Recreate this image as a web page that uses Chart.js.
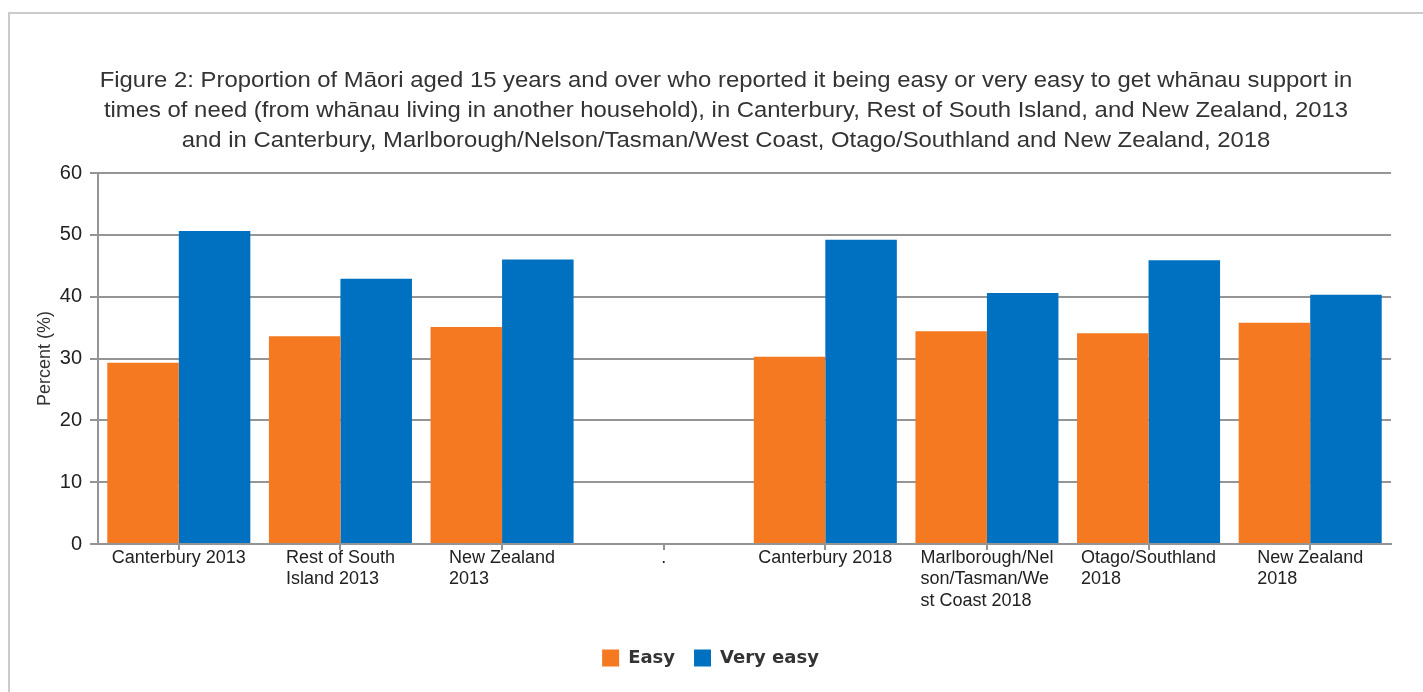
<!DOCTYPE html>
<html>
<head>
<meta charset="utf-8">
<script src="https://cdn.jsdelivr.net/npm/chart.js@4.4.1/dist/chart.umd.min.js"></script>
<style>
  html, body { margin: 0; padding: 0; background: #fff; }
  body { width: 1423px; height: 692px; position: relative; overflow: hidden; }
  .frame { position: absolute; left: 8px; top: 12px; right: -4px; bottom: -4px;
           border-top: 2px solid #cbcbcb; border-left: 2px solid #cbcbcb; }
  #chart { position: absolute; left: 0; top: 0; }
</style>
</head>
<body>
<div class="frame"></div>
<canvas id="chart" width="1423" height="692"></canvas>
<script>
// ---- data ----
const TITLE_LINES = [
  'Figure 2: Proportion of Māori aged 15 years and over who reported it being easy or very easy to get whānau support in',
  'times of need (from whānau living in another household), in Canterbury, Rest of South Island, and New Zealand, 2013',
  'and in Canterbury, Marlborough/Nelson/Tasman/West Coast, Otago/Southland and New Zealand, 2018'
];
const CATEGORIES = [
  'Canterbury 2013',
  ['Rest of South', 'Island 2013'],
  ['New Zealand', '2013'],
  '.',
  'Canterbury 2018',
  ['Marlborough/Nel', 'son/Tasman/We', 'st Coast 2018'],
  ['Otago/Southland', '2018'],
  ['New Zealand', '2018']
];
const EASY      = [29.3, 33.6, 35.1, null, 30.3, 34.4, 34.1, 35.8];
const VERY_EASY = [50.6, 42.9, 46.0, null, 49.2, 40.6, 45.9, 40.3];
const Y_MIN = 0, Y_MAX = 60, Y_STEP = 10;
const Y_TITLE = 'Percent (%)';

const ORANGE = '#F47920';
const BLUE = '#0070C0';
const GRID = '#959595';
const FONT = '"Liberation Sans", Arial, sans-serif';

Chart.defaults.font.family = FONT;

// title drawn by hand so it can sit where the original has it
const titlePlugin = {
  id: 'figTitle',
  afterDraw(chart) {
    const ctx = chart.ctx;
    ctx.save();
    ctx.translate(726, 0);
    ctx.scale(1.085, 1);   // the original title is a little stretched sideways
    ctx.font = '22px ' + FONT;
    ctx.fillStyle = '#333';
    ctx.textAlign = 'center';
    ctx.textBaseline = 'alphabetic';
    TITLE_LINES.forEach((line, i) => ctx.fillText(line, 0, 87 + i * 30));
    ctx.restore();
  }
};

// x labels: wrapped lines left-aligned inside a block centred on the tick
const xLabelPlugin = {
  id: 'xLabels',
  afterDraw(chart) {
    const { ctx } = chart;
    const x = chart.scales.x;
    ctx.save();
    ctx.font = '18px ' + FONT;
    ctx.fillStyle = '#222';
    ctx.textAlign = 'left';
    ctx.textBaseline = 'top';
    chart.data.labels.forEach((lab, i) => {
      const lines = Array.isArray(lab) ? lab : [lab];
      const w = Math.max(...lines.map(l => ctx.measureText(l).width));
      const cx = x.getPixelForTick(i);
      lines.forEach((l, k) => ctx.fillText(l, cx - w / 2, x.top + 5 + k * 21.5));
    });
    ctx.restore();
  }
};

new Chart(document.getElementById('chart').getContext('2d'), {
  type: 'bar',
  data: {
    labels: CATEGORIES,
    datasets: [
      { label: 'Easy', data: EASY, backgroundColor: ORANGE, borderWidth: 0 },
      { label: 'Very easy', data: VERY_EASY, backgroundColor: BLUE, borderWidth: 0 }
    ]
  },
  options: {
    responsive: false,
    animation: false,
    layout: { padding: { top: 173, left: 30, right: 32, bottom: 15 } },
    datasets: { bar: { categoryPercentage: 0.885, barPercentage: 1.0 } },
    scales: {
      x: {
        grid: { drawOnChartArea: false, offset: false, tickLength: 6, color: GRID, lineWidth: 2 },
        border: { color: GRID, width: 2 },
        ticks: { display: false },
        afterFit(scale) { scale.height = 86; }
      },
      y: {
        min: Y_MIN, max: Y_MAX,
        ticks: { stepSize: Y_STEP, padding: 8, color: '#222', font: { size: 20 } },
        grid: { color: GRID, lineWidth: 2, tickLength: 8 },
        border: { color: GRID, width: 2 },
        title: { display: true, text: Y_TITLE, color: '#333', font: { size: 18 }, padding: { top: 4, bottom: 0 } },
        afterFit(scale) { scale.width = 68; }
      }
    },
    plugins: {
      title: { display: false },
      tooltip: { enabled: false },
      legend: {
        position: 'bottom',
        labels: {
          boxWidth: 17, boxHeight: 17, padding: 19, color: '#333',
          font: { family: '"DejaVu Sans", Verdana, sans-serif', weight: 'bold', size: 18 }
        }
      }
    }
  },
  plugins: [titlePlugin, xLabelPlugin]
});
</script>
</body>
</html>
